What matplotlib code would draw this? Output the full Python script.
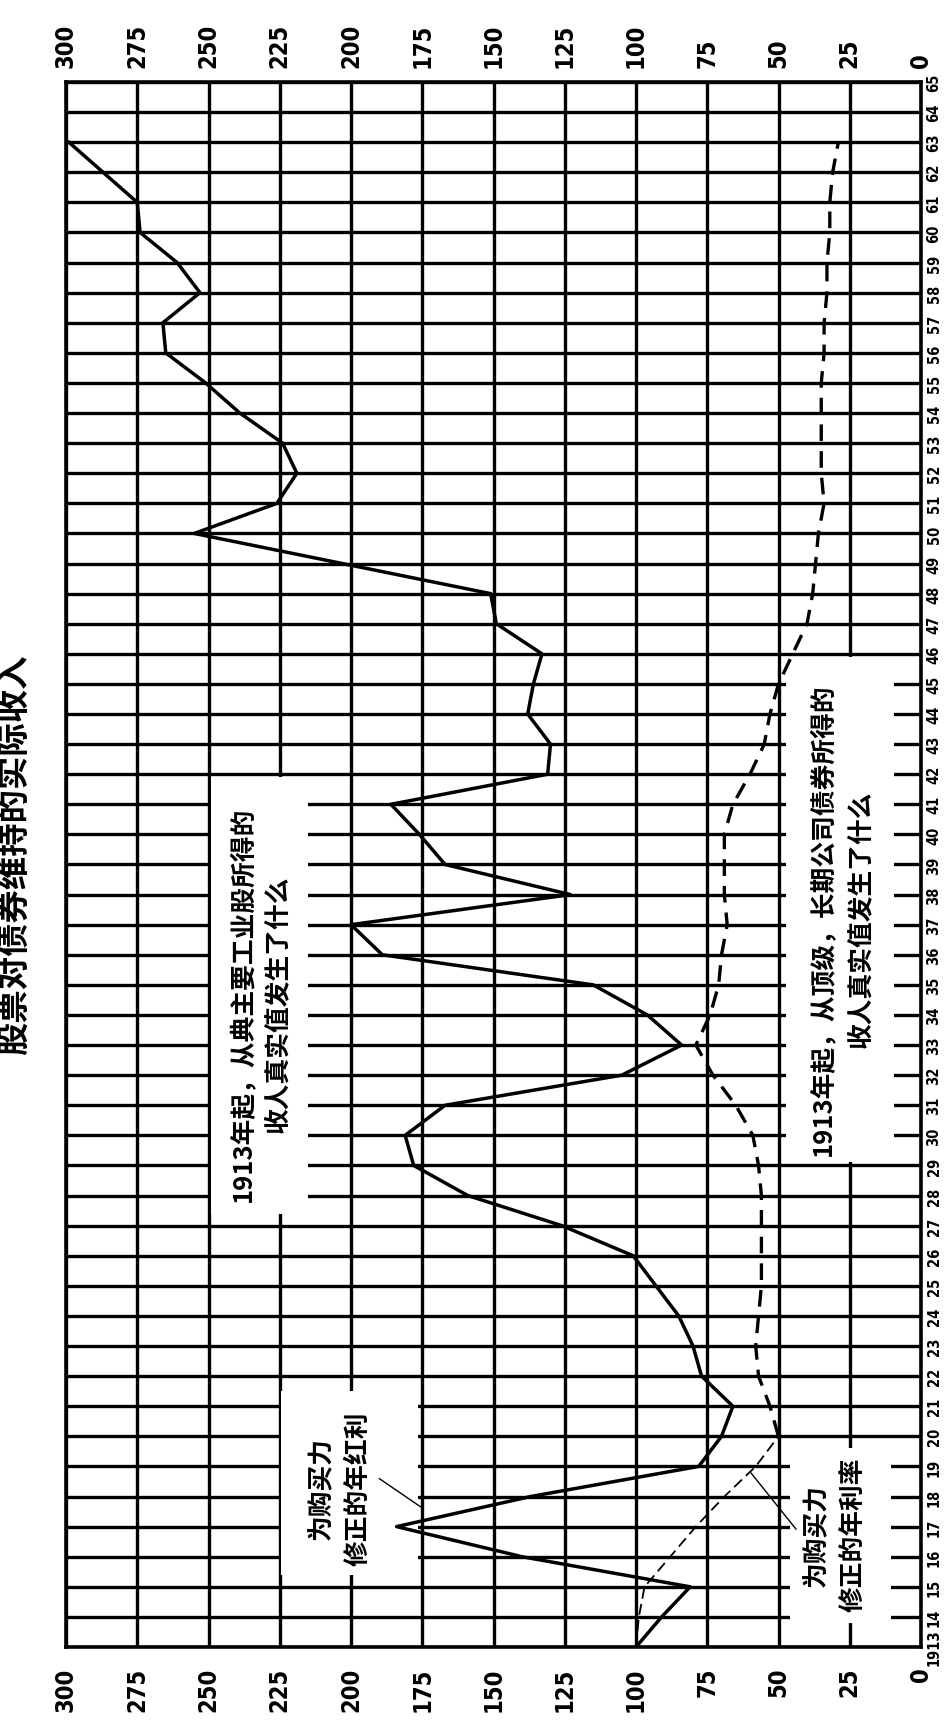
import matplotlib
matplotlib.use('Agg')
import matplotlib.pyplot as plt
from matplotlib.patches import Rectangle

plt.rcParams['font.family'] = ['Noto Sans CJK SC', 'DejaVu Sans']

title = '股票对债券维持的实际收入'
years = list(range(1913, 1964))
stock_real_dividends = [100, 91, 81, 140, 184, 137, 78, 70, 66, 77,
                        80, 85, 93, 101, 126, 159, 178, 181, 167, 105,
                        84, 96, 115, 189, 200, 123, 167, 176, 186, 131,
                        130, 138, 136, 133, 149, 151, 203, 255, 226, 219,
                        224, 239, 251, 265, 266, 253, 261, 274, 275, 287, 299]
bond_real_interest = [100, 99, 97, 88, 79, 69, 58, 50, 53, 57,
                      58, 57, 56, 56, 56, 56, 57, 59, 65, 73,
                      79, 74, 71, 70, 68, 69, 69, 69, 66, 60,
                      55, 53, 50, 45, 40, 38, 37, 36, 34, 35,
                      35, 35, 35, 34, 34, 33, 33, 32, 32, 31, 29]
value_ticks = list(range(0, 301, 25))
year_ticks = list(range(1913, 1966))
year_labels = ['1913'] + [str(y)[2:] for y in year_ticks[1:]]

stock_note = '1913年起，从典主要工业股所得的\n收人真实值发生了什么'
bond_note = '1913年起，从顶级，长期公司债券所得的\n收人真实值发生了什么'
dividend_label = '为购买力\n修正的年红利'
interest_label = '为购买力\n修正的年利率'

num_font = dict(family='DejaVu Sans', fontstretch='condensed', fontweight='bold')

fig = plt.figure(figsize=(9.48, 17.31), dpi=100)
ax = fig.add_axes([66 / 948, 1 - 1648 / 1731, 855 / 948, 1565 / 1731])
ax.set_xlim(300, 0)
ax.set_ylim(1913, 1965)

ax.set_xticks(value_ticks)
ax.set_xticklabels([str(v) for v in value_ticks], rotation=90, fontsize=17, **num_font)
ax.tick_params(axis='x', length=0, pad=14)
top = ax.secondary_xaxis('top')
top.set_xticks(value_ticks)
top.set_xticklabels([str(v) for v in value_ticks], rotation=90, fontsize=17, **num_font)
top.tick_params(axis='x', length=0, pad=11)
top.spines['top'].set_visible(False)

ax.yaxis.tick_right()
ax.set_yticks(year_ticks)
ax.set_yticklabels(year_labels, rotation=90, va='center', fontsize=10.5, **num_font)
ax.tick_params(axis='y', length=0, pad=4)

ax.grid(True, color='black', lw=2.4)
for s in ax.spines.values():
    s.set_linewidth(2.6)

# white panels behind the notes (grid is broken there)
for x0, x1, y0, y1 in [(215, 249, 1927.4, 1941.9), (9.5, 47.5, 1929.1, 1945.9),
                       (176.5, 224.5, 1915.4, 1921.5), (10.5, 46, 1913.8, 1919.6)]:
    ax.add_patch(Rectangle((x0, y0), x1 - x0, y1 - y0, facecolor='white',
                           edgecolor='none', zorder=1.8))

ax.plot(stock_real_dividends, years, color='black', lw=2.5, zorder=3)
ax.plot(bond_real_interest[:8], years[:8], color='black', lw=1.3,
        ls=(0, (6, 3)), zorder=3)
ax.plot(bond_real_interest[7:], years[7:], color='black', lw=2.4,
        ls=(0, (5, 3)), zorder=3)

txt = dict(rotation=90, ha='center', va='center', fontweight='bold',
           multialignment='center', zorder=4)
ax.text(231.8, 1934.4, stock_note, fontsize=18.5, linespacing=1.35, **txt)
ax.text(27.9, 1937.2, bond_note, fontsize=18.5, linespacing=1.55, **txt)
ax.text(203.9, 1918.3, dividend_label, fontsize=18.5, linespacing=1.45, **txt)
ax.text(30.2, 1916.75, interest_label, fontsize=18.5, linespacing=1.45, **txt)

ax.annotate('', xy=(174.7, 1917.6), xytext=(190.9, 1918.65),
            arrowprops=dict(arrowstyle='-', color='black', lw=1.0), zorder=4)
ax.annotate('', xy=(60.3, 1918.86), xytext=(43.2, 1916.84),
            arrowprops=dict(arrowstyle='-', color='black', lw=1.0), zorder=4)

fig.text(14 / 948, 1 - 855 / 1731, title, rotation=90, ha='center',
         va='center', fontsize=24, fontweight='bold')

fig.savefig('out.png', dpi=100)
